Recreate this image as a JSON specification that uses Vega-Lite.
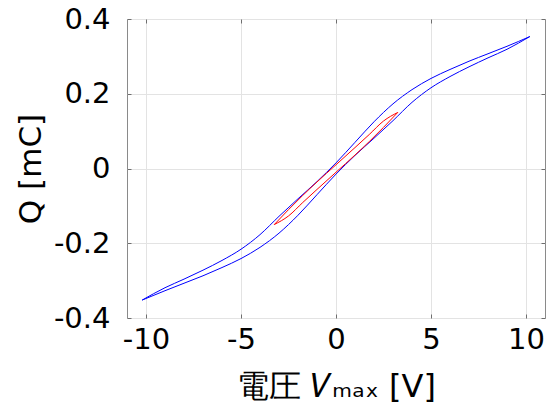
{
  "$schema": "https://vega.github.io/schema/vega-lite/v6.json",
  "width": 418,
  "height": 299,
  "autosize": {"type": "none"},
  "padding": {"left": 127, "top": 19, "right": 2, "bottom": 89},
  "background": "white",
  "config": {
    "view": {"stroke": "#8a8a8a", "strokeWidth": 1},
    "font": "DejaVu Sans",
    "axis": {
      "labelFont": "DejaVu Sans",
      "titleFont": "DejaVu Sans",
      "labelColor": "#000000",
      "titleColor": "#000000",
      "titleFontWeight": "normal",
      "gridColor": "#e3e3e3",
      "gridWidth": 1,
      "domain": false,
      "tickColor": "#6e6e6e",
      "tickSize": -4
    }
  },
  "data": {
    "values": [
      {"loop": "10V", "branch": "up10", "V": 10.2, "Q": 0.353},
      {"loop": "10V", "branch": "up10", "V": 9, "Q": 0.327},
      {"loop": "10V", "branch": "up10", "V": 8, "Q": 0.307},
      {"loop": "10V", "branch": "up10", "V": 7, "Q": 0.287},
      {"loop": "10V", "branch": "up10", "V": 6, "Q": 0.265},
      {"loop": "10V", "branch": "up10", "V": 5, "Q": 0.241},
      {"loop": "10V", "branch": "up10", "V": 4, "Q": 0.211},
      {"loop": "10V", "branch": "up10", "V": 3, "Q": 0.173},
      {"loop": "10V", "branch": "up10", "V": 2, "Q": 0.125},
      {"loop": "10V", "branch": "up10", "V": 1, "Q": 0.07},
      {"loop": "10V", "branch": "up10", "V": 0, "Q": 0.015},
      {"loop": "10V", "branch": "up10", "V": -1, "Q": -0.035},
      {"loop": "10V", "branch": "up10", "V": -2, "Q": -0.081},
      {"loop": "10V", "branch": "up10", "V": -3, "Q": -0.128},
      {"loop": "10V", "branch": "up10", "V": -4, "Q": -0.177},
      {"loop": "10V", "branch": "up10", "V": -5, "Q": -0.216},
      {"loop": "10V", "branch": "up10", "V": -6, "Q": -0.246},
      {"loop": "10V", "branch": "up10", "V": -7, "Q": -0.272},
      {"loop": "10V", "branch": "up10", "V": -8, "Q": -0.296},
      {"loop": "10V", "branch": "up10", "V": -9, "Q": -0.319},
      {"loop": "10V", "branch": "up10", "V": -10.2, "Q": -0.352},
      {"loop": "10V", "branch": "lo10", "V": -10.2, "Q": -0.352},
      {"loop": "10V", "branch": "lo10", "V": -9, "Q": -0.327},
      {"loop": "10V", "branch": "lo10", "V": -8, "Q": -0.307},
      {"loop": "10V", "branch": "lo10", "V": -7, "Q": -0.287},
      {"loop": "10V", "branch": "lo10", "V": -6, "Q": -0.265},
      {"loop": "10V", "branch": "lo10", "V": -5, "Q": -0.241},
      {"loop": "10V", "branch": "lo10", "V": -4, "Q": -0.211},
      {"loop": "10V", "branch": "lo10", "V": -3, "Q": -0.173},
      {"loop": "10V", "branch": "lo10", "V": -2, "Q": -0.125},
      {"loop": "10V", "branch": "lo10", "V": -1, "Q": -0.07},
      {"loop": "10V", "branch": "lo10", "V": 0, "Q": -0.015},
      {"loop": "10V", "branch": "lo10", "V": 1, "Q": 0.035},
      {"loop": "10V", "branch": "lo10", "V": 2, "Q": 0.081},
      {"loop": "10V", "branch": "lo10", "V": 3, "Q": 0.128},
      {"loop": "10V", "branch": "lo10", "V": 4, "Q": 0.177},
      {"loop": "10V", "branch": "lo10", "V": 5, "Q": 0.216},
      {"loop": "10V", "branch": "lo10", "V": 6, "Q": 0.246},
      {"loop": "10V", "branch": "lo10", "V": 7, "Q": 0.272},
      {"loop": "10V", "branch": "lo10", "V": 8, "Q": 0.296},
      {"loop": "10V", "branch": "lo10", "V": 9, "Q": 0.319},
      {"loop": "10V", "branch": "lo10", "V": 10.2, "Q": 0.353},
      {"loop": "3V", "branch": "up3", "V": 3.25, "Q": 0.15},
      {"loop": "3V", "branch": "up3", "V": 2.5, "Q": 0.127},
      {"loop": "3V", "branch": "up3", "V": 1.75, "Q": 0.091},
      {"loop": "3V", "branch": "up3", "V": 1, "Q": 0.056},
      {"loop": "3V", "branch": "up3", "V": 0, "Q": 0.01},
      {"loop": "3V", "branch": "up3", "V": -1, "Q": -0.036},
      {"loop": "3V", "branch": "up3", "V": -1.75, "Q": -0.072},
      {"loop": "3V", "branch": "up3", "V": -2.5, "Q": -0.11},
      {"loop": "3V", "branch": "up3", "V": -3.25, "Q": -0.15},
      {"loop": "3V", "branch": "lo3", "V": -3.25, "Q": -0.15},
      {"loop": "3V", "branch": "lo3", "V": -2.5, "Q": -0.127},
      {"loop": "3V", "branch": "lo3", "V": -1.75, "Q": -0.091},
      {"loop": "3V", "branch": "lo3", "V": -1, "Q": -0.056},
      {"loop": "3V", "branch": "lo3", "V": 0, "Q": -0.01},
      {"loop": "3V", "branch": "lo3", "V": 1, "Q": 0.036},
      {"loop": "3V", "branch": "lo3", "V": 1.75, "Q": 0.072},
      {"loop": "3V", "branch": "lo3", "V": 2.5, "Q": 0.11},
      {"loop": "3V", "branch": "lo3", "V": 3.25, "Q": 0.15}
    ]
  },
  "layer": [
    {
      "mark": {"type": "line", "strokeWidth": 1, "interpolate": "monotone"},
      "encoding": {
        "x": {
          "field": "V", "type": "quantitative",
          "scale": {"domain": [-11, 11], "nice": false, "zero": false},
          "axis": {
            "orient": "bottom",
            "values": [-10, -5, 0, 5, 10],
            "labelExpr": "replace(format(datum.value, '~g'), '\u2212', '-')",
            "labelFontSize": 29,
            "labelPadding": 11,
            "labelFlush": false,
            "title": "電圧 𝑉ₘₐₓ [V]",
            "titleFontSize": 32,
            "titlePadding": 17
          }
        },
        "y": {
          "field": "Q", "type": "quantitative",
          "scale": {"domain": [-0.4, 0.4], "nice": false, "zero": false},
          "axis": {
            "orient": "left",
            "values": [-0.4, -0.2, 0, 0.2, 0.4],
            "labelExpr": "replace(format(datum.value, '~g'), '\u2212', '-')",
            "labelFontSize": 29,
            "labelPadding": 21,
            "labelFlush": false,
            "title": "Q [mC]",
            "titleFontSize": 31,
            "titlePadding": 6
          }
        },
        "detail": {"field": "branch"},
        "color": {
          "field": "loop", "type": "nominal",
          "scale": {"domain": ["10V", "3V"], "range": ["#0000ff", "#ff0000"]},
          "legend": null
        }
      }
    },
    {
      "mark": {"type": "line", "opacity": 0},
      "encoding": {
        "x": {
          "field": "V", "type": "quantitative",
          "axis": {"orient": "top", "values": [-10, -5, 0, 5, 10], "labels": false, "grid": false, "title": null}
        },
        "y": {
          "field": "Q", "type": "quantitative",
          "axis": {"orient": "right", "values": [-0.4, -0.2, 0, 0.2, 0.4], "labels": false, "grid": false, "title": null}
        },
        "detail": {"field": "branch"}
      }
    }
  ],
  "resolve": {"axis": {"x": "independent", "y": "independent"}}
}
